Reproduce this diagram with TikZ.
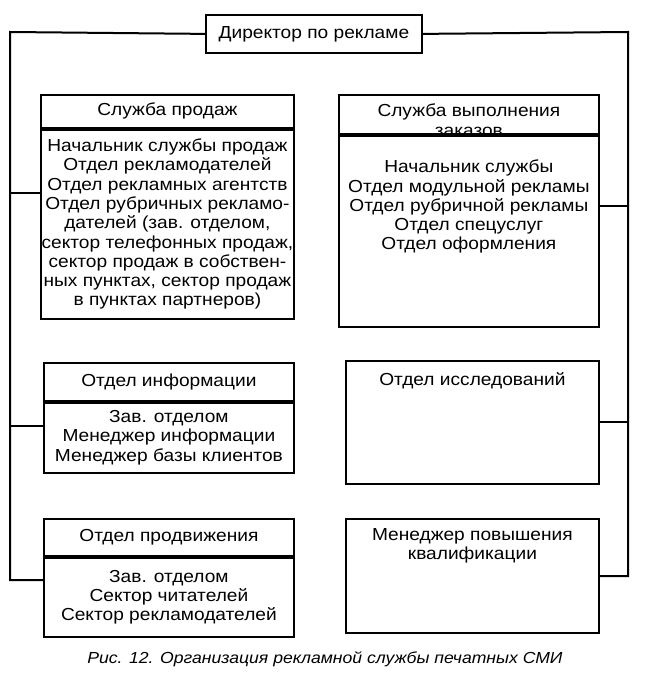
\documentclass[tikz,border=0pt]{standalone}
\usepackage{fontspec}
\setmainfont{Liberation Sans}[FakeStretch=1.1]
\usetikzlibrary{positioning}

\begin{document}
\begin{tikzpicture}[x=1pt,y=-1pt]
\tikzstyle{box}=[draw,line width=1.8pt,inner sep=0pt,anchor=north west,align=center,font=\fontsize{17.4}{19.3}\selectfont];
\tikzstyle{txt}=[inner sep=0pt,anchor=north,align=center,font=\fontsize{17.4}{19.3}\selectfont];
\tikzstyle{link}=[line width=2pt];
\useasboundingbox (0,0) rectangle (652,692);
% director
\node[box,minimum width=216,minimum height=38] (dir) at (205,14) {Директор по рекламе};
\coordinate (ltop) at (10,32);
\coordinate (lbot) at (10,580);
\coordinate (rtop) at (628,32);
\coordinate (rbot) at (628,576);
% left column
\node[box,minimum width=253,minimum height=33] (salesh) at (40,94) {Служба продаж};
\node[box,anchor=north,minimum width=253,minimum height=189] (sales) at (salesh.south) {Начальник службы продаж\\Отдел рекламодателей\\Отдел рекламных агентств\\Отдел рубричных рекламо-\\дателей (зав. отделом,\\сектор телефонных продаж,\\сектор продаж в собствен-\\ных пунктах, сектор продаж\\в пунктах партнеров)};
\node[box,minimum width=250,minimum height=38] (infoh) at (43,362) {Отдел информации};
\node[box,anchor=north,minimum width=250,minimum height=70] (info) at (infoh.south) {Зав. отделом\\Менеджер информации\\Менеджер базы клиентов};
\node[box,minimum width=250,minimum height=37] (promoh) at (43,518) {Отдел продвижения};
\node[box,anchor=north,minimum width=250,minimum height=79] (promo) at (promoh.south) {Зав. отделом\\Сектор читателей\\Сектор рекламодателей};
% right column
\node[box,minimum width=260,minimum height=39] (ordersh) at (338,94) {};
\node[txt] at ([yshift=-10pt]ordersh.north) {Служба выполнения\\заказов};
\node[box,anchor=north,minimum width=260,minimum height=191] (orders) at (ordersh.south) {};
\node[txt,below=25pt of orders.north] {Начальник службы\\Отдел модульной рекламы\\Отдел рубричной рекламы\\Отдел спецуслуг\\Отдел оформления};
\node[box,minimum width=253,minimum height=123] (research) at (345,360) {};
\node[txt,below=12pt of research.north] {Отдел исследований};
\node[box,minimum width=253,minimum height=114] (qual) at (345,518) {};
\node[txt,below=10pt of qual.north] {Менеджер повышения\\квалификации};
% links
\draw[link] (dir.west) -- (ltop) -- (lbot) -- (lbot -| promo.west);
\draw[link] (dir.east) -- (rtop) -- (rbot) -- (rbot -| qual.east);
\draw[link] ([yshift=31pt]sales.west) -- ([yshift=31pt]sales.west -| ltop);
\draw[link] ([yshift=12pt]info.west) -- ([yshift=12pt]info.west -| ltop);
\draw[link] ([yshift=25pt]orders.east) -- ([yshift=25pt]orders.east -| rtop);
\draw[link] ([yshift=0pt]research.east) -- (research.east -| rtop);
% caption
\node[txt,font=\fontsize{16}{19}\selectfont\itshape] (cap) at (325,651) {Рис. 12. Организация рекламной службы печатных СМИ};
\end{tikzpicture}
\end{document}
